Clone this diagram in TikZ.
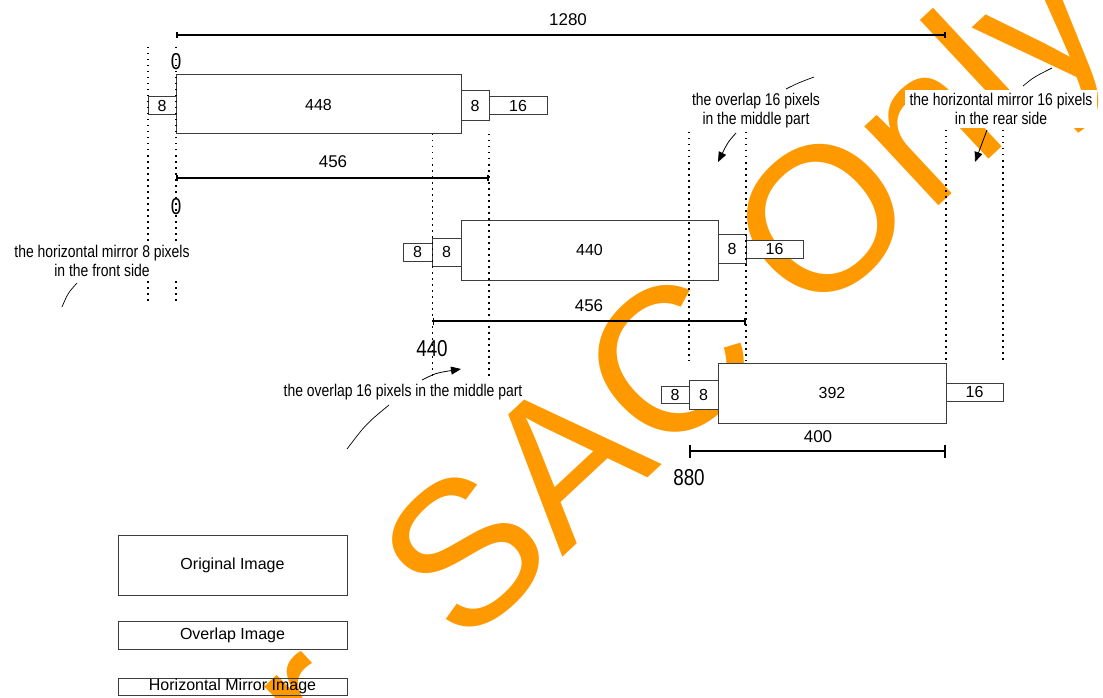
\documentclass[tikz,border=0pt]{standalone}
\usepackage{fontspec}
\setmainfont{Liberation Sans}
\newfontfamily\narrowfont[FakeStretch=0.82]{Liberation Sans}
\usetikzlibrary{arrows.meta}
\definecolor{wm}{RGB}{255,153,0}
\definecolor{bd}{RGB}{60,60,60}
\begin{document}
\begin{tikzpicture}[x=1pt,y=-1pt,
  box/.style={draw=bd, line width=1pt, fill=white, inner sep=0pt, font=\fontsize{16}{19}\selectfont},
  legendbox/.style={draw=bd, line width=1pt, inner sep=0pt, font=\fontsize{16}{19}\selectfont},
  dimline/.style={line width=1.8pt, {Bar[width=#1]}-{Bar[width=#1]}},
  dimline/.default=7pt,
  dots/.style={line width=1.3pt, dash pattern=on 1.5pt off 4.5pt},
  dimlabel/.style={font=\fontsize{17}{20}\selectfont, inner sep=0pt},
  bignum/.style={font=\narrowfont\fontsize{23}{26}\selectfont, inner sep=0pt},
  note/.style={font=\narrowfont\fontsize{17}{19}\selectfont, align=center, inner sep=0pt},
  leader/.style={line width=0.7pt},
  arr/.style={line width=0.8pt, -{Triangle[length=10pt,width=8pt]}},
  wmtext/.style={rotate=43, text=wm, inner sep=0pt, font=\fontsize{205}{240}\selectfont}
]
\useasboundingbox (0,0) rectangle (1103,698);
\clip (0,0) rectangle (1103,698);
\fill[white] (0,0) rectangle (1103,698);

% watermark
\node[wmtext, anchor=base west] (wmsac) at (462,651) {SAC Only};
\node[wmtext, anchor=base east] (wmfor) at (379,729) {For};

% row 1 boxes
\node[box, minimum width=28pt, minimum height=18pt] (l8a) at (162,106) {8};
\node[box, minimum width=285pt, minimum height=59pt] (b448) at (318.5,104.5) {448};
\node[box, minimum width=28pt, minimum height=30pt] (r8a) at (475,106) {8};
\node[box, minimum width=58pt, minimum height=18pt] (r16a) at (518,106) {16};

% row 2 boxes
\node[box, minimum width=29pt, minimum height=18pt] (l8b) at (417.5,252) {8};
\node[box, minimum width=29pt, minimum height=28pt] (m8b) at (446.5,252) {8};
\node[box, minimum width=257pt, minimum height=60pt] (b440) at (589.5,250) {440};
\node[box, minimum width=28pt, minimum height=29pt] (r8b) at (732,248.5) {8};
\node[box, minimum width=57pt, minimum height=18pt] (r16b) at (774.5,249) {16};

% row 3 boxes
\node[box, minimum width=28pt, minimum height=17pt] (l8c) at (675,394.5) {8};
\node[box, minimum width=29pt, minimum height=29pt] (m8c) at (703.5,394.5) {8};
\node[box, minimum width=228pt, minimum height=60pt] (b392) at (832,393) {392};
\node[box, minimum width=57pt, minimum height=18pt] (r16c) at (974.5,392) {16};

% legend
\node[legendbox, minimum width=229pt, minimum height=60pt] (lgo) at (232.5,565) {Original Image};
\node[legendbox, minimum width=229pt, minimum height=28pt] (lgv) at (232.5,635) {Overlap Image};
\node[legendbox, minimum width=229pt, minimum height=17pt] (lgh) at (232.5,686.5) {Horizontal Mirror Image};

% dotted guide lines
\coordinate (d1a) at (148,47);  \coordinate (d1b) at (148,302);
\coordinate (d2a) at (176,47);  \coordinate (d2b) at (176,302);
\coordinate (d3a) at (432.5,134); \coordinate (d3b) at (432.5,380);
\coordinate (d4a) at (489,134); \coordinate (d4b) at (489,380);
\coordinate (d5a) at (689,132); \coordinate (d5b) at (689,361);
\coordinate (d6a) at (746,132); \coordinate (d6b) at (746,361);
\coordinate (d7a) at (946,130); \coordinate (d7b) at (946,361);
\coordinate (d8a) at (1003,130); \coordinate (d8b) at (1003,361);
\foreach \i in {1,...,8} { \draw[dots] (d\i a) -- (d\i b); }

% dimension lines
\coordinate (k1a) at (176,35); \coordinate (k1b) at (946,35);
\coordinate (k2a) at (176,178); \coordinate (k2b) at (489,178);
\coordinate (k3a) at (432.5,321); \coordinate (k3b) at (746,321);
\coordinate (k4a) at (689,451); \coordinate (k4b) at (946,451);
\draw[dimline=6pt] (k1a) -- (k1b);
\draw[dimline=6pt] (k2a) -- (k2b);
\draw[dimline=7pt] (k3a) -- (k3b);
\draw[dimline=13pt] (k4a) -- (k4b);
\node[dimlabel] (t1280) at (568,20) {1280};
\node[dimlabel] (t456a) at (333,162) {456};
\node[dimlabel] (t456b) at (589,306) {456};
\node[dimlabel] (t400) at (818,437) {400};

% position numbers
\node[bignum] (p0a) at (176,62) {0};
\node[bignum] (p0b) at (176,207) {0};
\node[bignum] (p440) at (432,349) {440};
\node[bignum] (p880) at (689,478) {880};

% notes
\node[note, fill=white, inner xsep=2pt, inner ysep=1pt] (nfront) at (102,261) {the horizontal mirror 8 pixels\\in the front side};
\node[note] (nmidtop) at (756,111) {the overlap 16 pixels\\in the middle part};
\node[note] (nmid) at (403,392) {the overlap 16 pixels in the middle part};
\node[note, fill=white, inner xsep=5pt, inner ysep=3pt] (nrear) at (1001,109) {the horizontal mirror 16 pixels\\in the rear side};

% leaders and arrows
\coordinate (f1) at (77,283); \coordinate (f2) at (62,307);
\draw[leader] (f1) .. controls (68,293) .. (f2);
\coordinate (m1) at (389,405); \coordinate (m2) at (347,449);
\draw[leader] (m1) .. controls (366,424) .. (m2);
\coordinate (ma1) at (422,380); \coordinate (ma2) at (461,369);
\draw[arr] (ma1) .. controls (436,373) .. (ma2);
\coordinate (t1) at (786,89); \coordinate (t2) at (814,77);
\draw[leader] (t1) .. controls (798,83) .. (t2);
\coordinate (ta1) at (736,133); \coordinate (ta2) at (718,162);
\draw[arr] (ta1) .. controls (728,142) .. (ta2);
\coordinate (r1) at (1023,86); \coordinate (r2) at (1052,68);
\draw[leader] (r1) .. controls (1034,77) .. (r2);
\coordinate (ra1) at (987,130); \coordinate (ra2) at (975,162);
\draw[arr] (ra1) -- (ra2);
\end{tikzpicture}
\end{document}
